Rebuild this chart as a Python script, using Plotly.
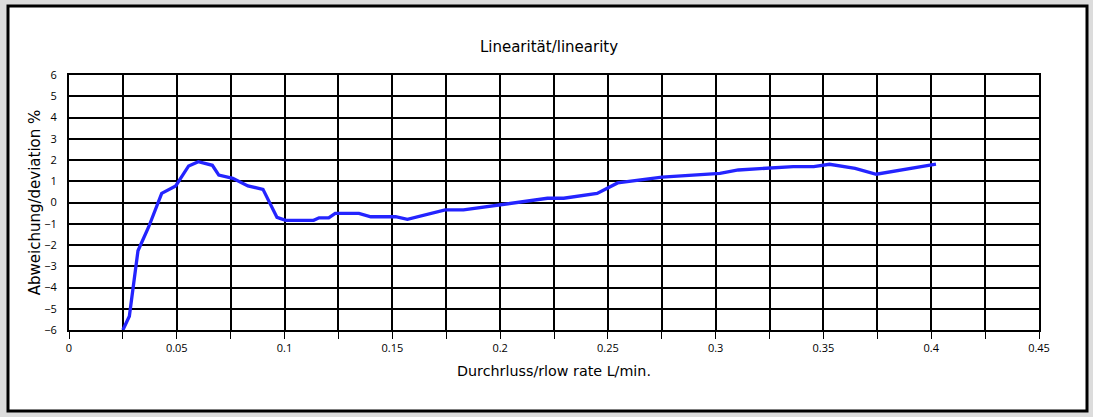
import plotly.graph_objects as go

# Data
flow_rate = [0.025, 0.028, 0.032, 0.037, 0.043, 0.0495, 0.0555, 0.060, 0.0665, 0.0695,
             0.076, 0.083, 0.090, 0.0965, 0.1005, 0.1135, 0.116, 0.1205, 0.1235, 0.1345,
             0.140, 0.1515, 0.157, 0.1745, 0.183, 0.200, 0.222, 0.2295, 0.245, 0.2545,
             0.2751, 0.302, 0.3105, 0.336, 0.3455, 0.3528, 0.3647, 0.3745, 0.4022]
deviation = [-6.0, -5.35, -2.27, -1.14, 0.43, 0.78, 1.72, 1.92, 1.75, 1.29,
             1.14, 0.78, 0.62, -0.70, -0.84, -0.84, -0.72, -0.72, -0.51, -0.51,
             -0.67, -0.67, -0.79, -0.35, -0.35, -0.12, 0.20, 0.20, 0.43, 0.92,
             1.19, 1.37, 1.53, 1.69, 1.69, 1.80, 1.61, 1.33, 1.81]

title_text = "Linearität/linearity"
x_title = "Durchrluss/rlow rate L/min."
y_title = "Abweichung/deviation %"

FONT = "Open Sans"
TFONT = "DejaVu Sans"

fig = go.Figure()
fig.add_trace(go.Scatter(
    x=flow_rate, y=deviation, mode="lines",
    line=dict(color="#2424ff", width=3.3),
    showlegend=False, hoverinfo="skip"))

W, H = 1093, 417
L, R, T, B = 69, 1039, 75, 330

def px_x(p):
    return (p - L) / (R - L)

def px_y(p):
    return (B - p) / (B - T)

fig.add_shape(type="rect", xref="paper", yref="paper",
              x0=px_x(8), x1=px_x(1087), y0=px_y(411), y1=px_y(6),
              fillcolor="white", line=dict(color="black", width=3), layer="below")

fig.update_layout(
    width=W, height=H,
    margin=dict(l=L, r=W - R, t=T, b=H - B),
    paper_bgcolor="#dcdcdc",
    plot_bgcolor="rgba(0,0,0,0)",
    font=dict(family=FONT, color="black"),
    title=dict(text=title_text, x=549 / W, xanchor="center",
               y=1 - 47 / H, yanchor="middle", font=dict(size=15, family=TFONT)),
)

fig.update_xaxes(
    range=[0, 0.45], dtick=0.05, tick0=0,
    showgrid=True, gridcolor="black", gridwidth=1.5,
    ticks="outside", ticklen=7, tickcolor="black", tickwidth=1,
    tickfont=dict(size=11, family=FONT),
    minor=dict(dtick=0.025, showgrid=True, gridcolor="black", gridwidth=1.5,
               ticks="outside", ticklen=7, tickcolor="black", tickwidth=1),
    showline=True, linecolor="black", linewidth=2, mirror=True,
    zeroline=False,
    title=dict(text=x_title, font=dict(size=14.3, family=TFONT), standoff=12),
)

fig.update_yaxes(
    range=[-6, 6], dtick=1, tick0=0,
    showgrid=True, gridcolor="black", gridwidth=1.5,
    ticks="", ticklabelstandoff=8,
    tickfont=dict(size=11, family=FONT),
    showline=True, linecolor="black", linewidth=2, mirror=True,
    zeroline=False,
    title=dict(text=y_title, font=dict(size=15, family=TFONT), standoff=0),
)

fig.write_html("out.html", config={"displayModeBar": False},
               post_script="document.body.style.margin='0';document.body.style.background='#dcdcdc';")
